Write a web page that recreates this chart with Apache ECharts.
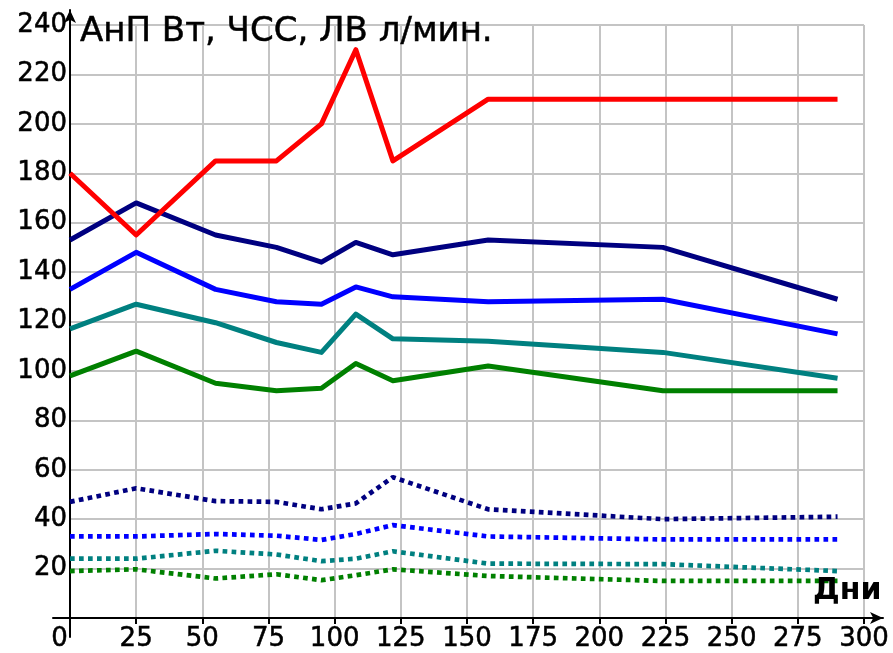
<!DOCTYPE html>
<html>
<head>
<meta charset="utf-8">
<script src="https://cdn.jsdelivr.net/npm/echarts@6/dist/echarts.min.js"></script>
<style>
  html, body { margin: 0; padding: 0; background: #fff; }
  #chart { width: 893px; height: 653px; }
</style>
</head>
<body>
<div id="chart"></div>
<script>
// дни наблюдения (общие точки излома для всех линий)
const days = [0, 25, 55, 78, 95, 108, 122, 158, 224, 290];

// сплошные линии
const anp      = [180, 155, 185, 185, 200, 230, 185, 210, 210, 210]; // АнП, Вт
const hrNavy   = [153, 168, 155, 150, 144, 152, 147, 153, 150, 129];
const hrBlue   = [133, 148, 133, 128, 127, 134, 130, 128, 129, 115];
const hrTeal   = [117, 127, 119.5, 111.5, 107.5, 123, 113, 112, 107.5, 97];
const hrGreen  = [98, 108, 95, 92, 93, 103, 96, 102, 92, 92];

// пунктирные линии (ЛВ)
const lvNavy   = [47, 52.5, 47.3, 47, 44, 46.4, 57, 44, 40, 41];
const lvBlue   = [33, 33, 34, 33.3, 31.6, 34, 37.6, 33, 31.8, 31.8];
const lvTeal   = [24, 24, 27.2, 25.7, 23, 24, 27, 22, 21.8, 19];
const lvGreen  = [19, 19.7, 16, 17.7, 15.3, 17.3, 19.7, 17, 15, 15];

const xTicks = { min: 0, max: 300, step: 25 };
const yTicks = { min: 0, max: 240, step: 20 };

const W = 893, H = 653;
const FONT = 'DejaVu Sans';
// основная сетка
const g = { left: 70, right: 29, top: 25, bottom: 35 };
// сетка для осей со стрелками (чуть шире основной)
const g2 = { left: 53, right: 10, top: 10, bottom: 16 };

const kx = (W - g.left - g.right) / (xTicks.max - xTicks.min);
const ky = (H - g.top - g.bottom) / (yTicks.max - yTicks.min);

// текст чуть "жирнее", как в оригинале
const heavy = { textBorderColor: '#000', textBorderWidth: 0.5 };

function pairs(ys) {
  return days.map((d, i) => [d, ys[i]]);
}

function solid(name, color, data) {
  return {
    name, type: 'line', data: pairs(data),
    showSymbol: false, symbol: 'none',
    lineStyle: { color, width: 5, join: 'round' }
  };
}

function dotted(name, color, data) {
  return {
    name, type: 'line', data: pairs(data),
    showSymbol: false, symbol: 'none',
    lineStyle: { color, width: 4.7, type: [4.7, 4.3], cap: 'butt' }
  };
}

const chart = echarts.init(document.getElementById('chart'));

const option = {
  animation: false,
  backgroundColor: '#fff',
  title: [
    {
      text: 'АнП Вт, ЧСС, ЛВ л/мин.',
      left: 75, top: 10,
      textStyle: Object.assign({ fontFamily: FONT, fontSize: 34, fontWeight: 'normal', color: '#000' }, heavy)
    },
    {
      text: 'Дни',
      left: 808, top: 571,
      textStyle: { fontFamily: FONT, fontSize: 30, fontWeight: 'bold', color: '#000' }
    }
  ],
  grid: [
    { left: g.left, right: g.right, top: g.top, bottom: g.bottom },
    { left: g2.left, right: g2.right, top: g2.top, bottom: g2.bottom }
  ],
  xAxis: [
    {
      type: 'value', gridIndex: 0,
      min: xTicks.min, max: xTicks.max, interval: xTicks.step,
      axisLine: { show: false },
      axisTick: { show: true, length: 6, lineStyle: { color: '#000', width: 2 } },
      splitLine: { show: true, lineStyle: { color: '#c4c4c4', width: 2 } },
      axisLabel: Object.assign({
        color: '#000', fontFamily: FONT, fontSize: 26, margin: 8,
        formatter: v => v === 0 ? '{z|0}' : String(v),
        rich: { z: Object.assign({ fontFamily: FONT, fontSize: 26, color: '#000', padding: [0, 21, 0, 0] }, heavy) }
      }, heavy)
    },
    {
      type: 'value', gridIndex: 1,
      min: -(g.left - g2.left) / kx,
      max: xTicks.max + ((W - g2.right) - (W - g.right)) / kx,
      axisLine: {
        show: true, onZero: true,
        lineStyle: { color: '#000', width: 2 },
        symbol: ['none', 'arrow'], symbolSize: [9, 13]
      },
      axisTick: { show: false }, axisLabel: { show: false }, splitLine: { show: false }
    }
  ],
  yAxis: [
    {
      type: 'value', gridIndex: 0,
      min: yTicks.min, max: yTicks.max, interval: yTicks.step,
      axisLine: { show: false },
      axisTick: { show: false },
      splitLine: { show: true, lineStyle: { color: '#c4c4c4', width: 2 } },
      axisLabel: Object.assign({
        color: '#000', fontFamily: FONT, fontSize: 26, margin: 3,
        formatter: v => v === 0 ? '' : String(v)
      }, heavy)
    },
    {
      type: 'value', gridIndex: 1,
      min: -((H - g2.bottom) - (H - g.bottom)) / ky,
      max: yTicks.max + (g.top - g2.top) / ky,
      axisLine: {
        show: true, onZero: true,
        lineStyle: { color: '#000', width: 2 },
        symbol: ['none', 'arrow'], symbolSize: [9, 13]
      },
      axisTick: { show: false }, axisLabel: { show: false }, splitLine: { show: false }
    }
  ],
  series: [
    dotted('ЛВ 1', '#000080', lvNavy),
    dotted('ЛВ 2', '#0000ff', lvBlue),
    dotted('ЛВ 3', '#008080', lvTeal),
    dotted('ЛВ 4', '#008000', lvGreen),
    solid('ЧСС 1', '#000080', hrNavy),
    solid('ЧСС 2', '#0000ff', hrBlue),
    solid('ЧСС 3', '#008080', hrTeal),
    solid('ЧСС 4', '#008000', hrGreen),
    solid('АнП', '#ff0000', anp)
  ]
};

chart.setOption(option);
</script>
</body>
</html>
